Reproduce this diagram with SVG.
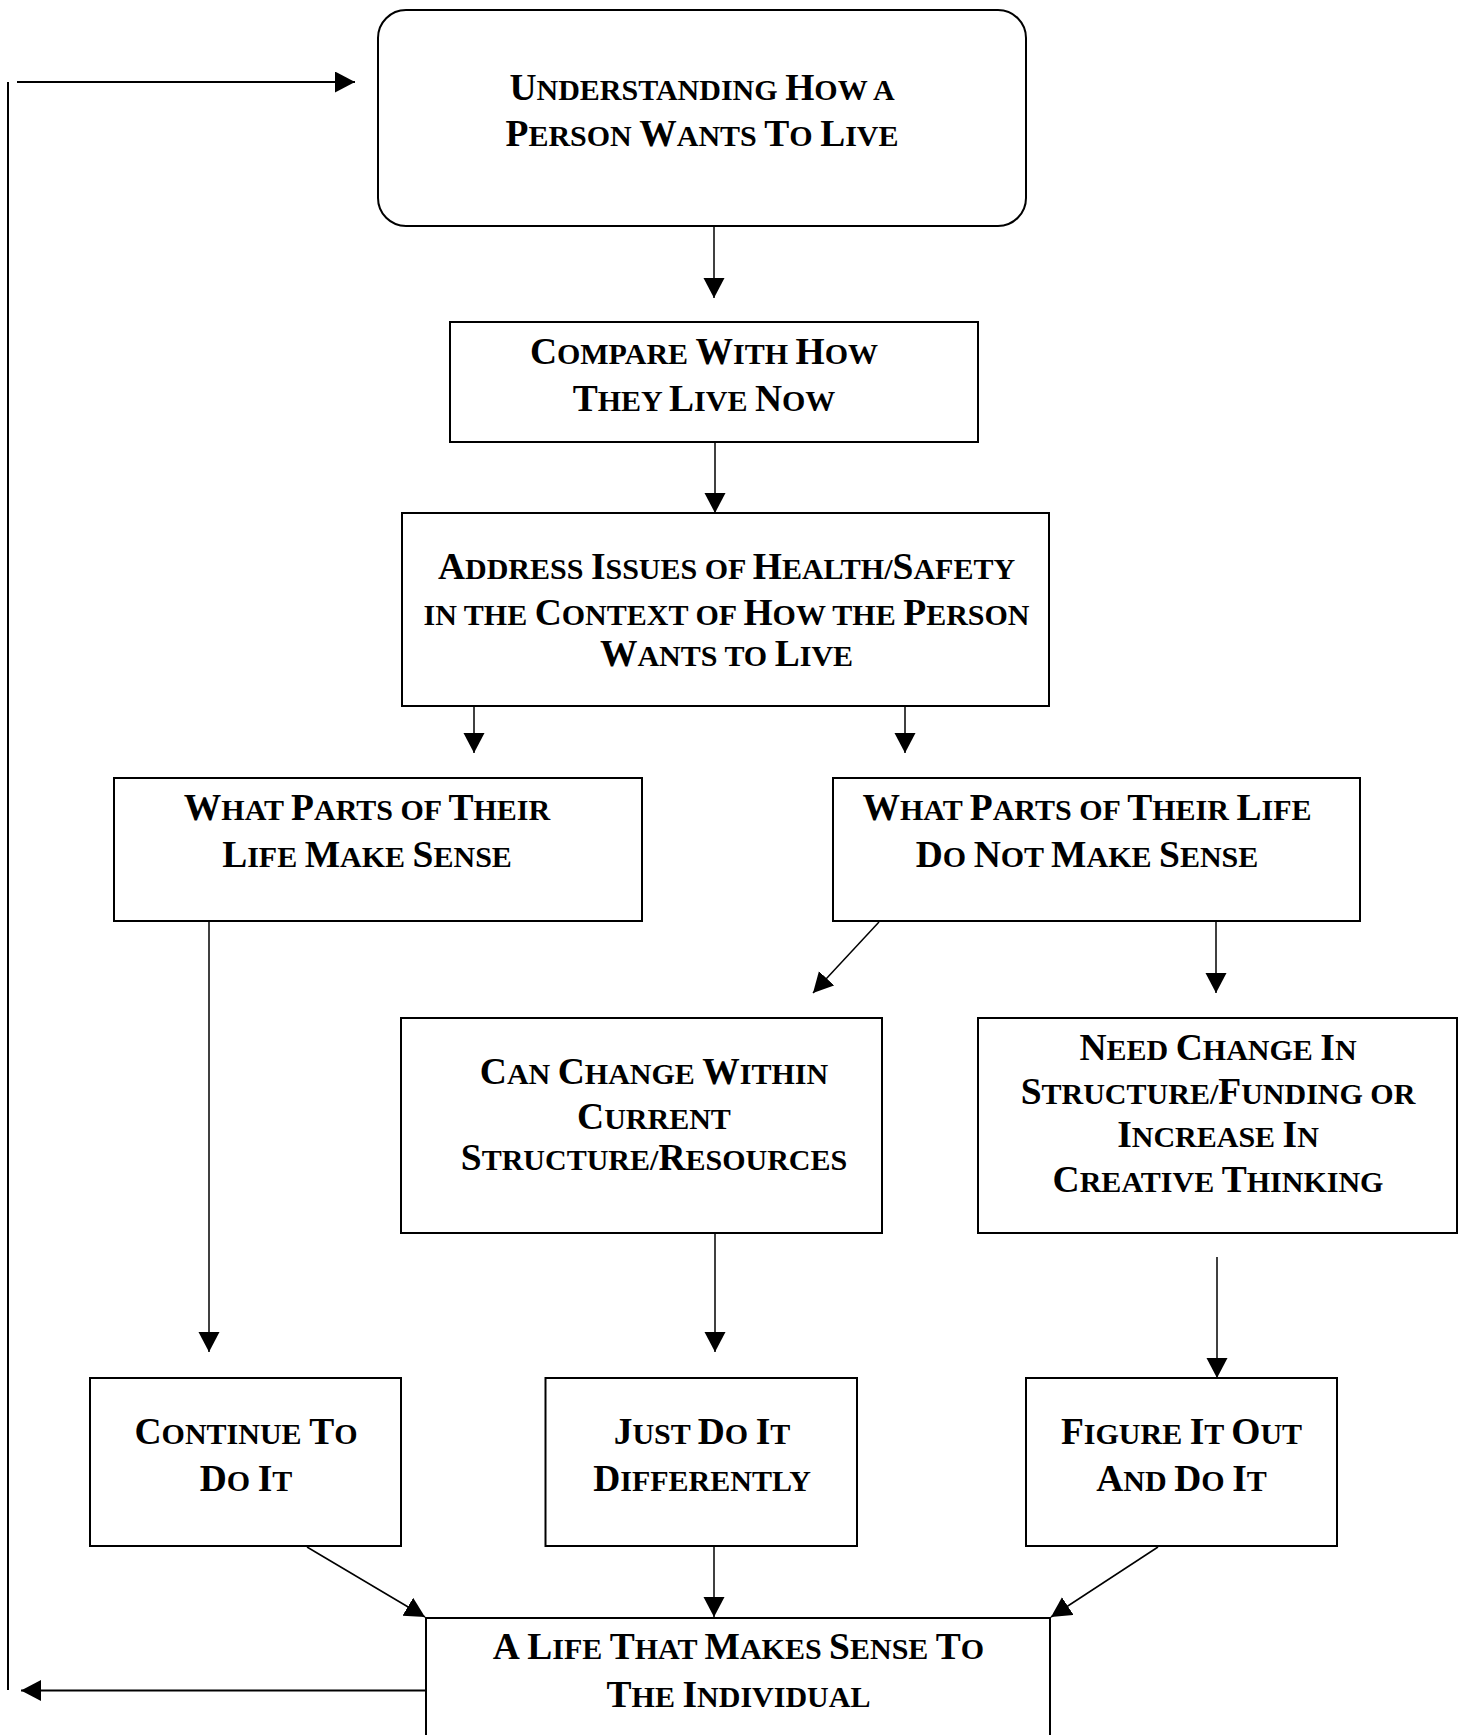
<svg xmlns="http://www.w3.org/2000/svg" width="1463" height="1735" viewBox="0 0 1463 1735">
  <style>
    .box { fill: #fff; stroke: #000; stroke-width: 2; }
    .conn { fill: none; stroke: #000; stroke-width: 1.5; }
    .loop { fill: none; stroke: #000; stroke-width: 2; }
    text { font-family: "Liberation Serif", "Times New Roman", serif; font-weight: bold; font-size: 37.5px; text-anchor: middle; fill: #000; white-space: pre; }
    .s { font-size: 30px; }
  </style>
  <defs>
    <marker id="arrow" markerUnits="userSpaceOnUse" markerWidth="21" markerHeight="22" refX="20" refY="10.5" orient="auto">
      <path d="M0,0 L20,10.5 L0,21 Z" fill="#000"/>
    </marker>
  </defs>
  <rect width="1463" height="1735" fill="#fff"/>

  <g id="connectors">
    <line class="conn" x1="714" y1="227" x2="714" y2="298" marker-end="url(#arrow)"/>
    <line class="conn" x1="715" y1="442" x2="715" y2="513" marker-end="url(#arrow)"/>
    <line class="conn" x1="474" y1="706" x2="474" y2="753" marker-end="url(#arrow)"/>
    <line class="conn" x1="905" y1="706" x2="905" y2="753" marker-end="url(#arrow)"/>
    <line class="conn" x1="209" y1="921" x2="209" y2="1352" marker-end="url(#arrow)"/>
    <line class="conn" x1="879" y1="922" x2="813" y2="993" marker-end="url(#arrow)"/>
    <line class="conn" x1="1216" y1="921" x2="1216" y2="993" marker-end="url(#arrow)"/>
    <line class="conn" x1="715" y1="1233" x2="715" y2="1352" marker-end="url(#arrow)"/>
    <line class="conn" x1="1217" y1="1257" x2="1217" y2="1378" marker-end="url(#arrow)"/>
    <line class="conn" x1="307" y1="1547" x2="425" y2="1617" marker-end="url(#arrow)"/>
    <line class="conn" x1="714" y1="1546" x2="714" y2="1617" marker-end="url(#arrow)"/>
    <line class="conn" x1="1158" y1="1547" x2="1051" y2="1617" marker-end="url(#arrow)"/>
    <!-- feedback loop back to the top -->
    <line class="loop" x1="426" y1="1690.5" x2="21" y2="1690.5" marker-end="url(#arrow)"/>
    <line class="loop" x1="8" y1="82" x2="8" y2="1690"/>
    <line class="loop" x1="17" y1="82" x2="355" y2="82" marker-end="url(#arrow)"/>
  </g>

  <g id="understanding">
    <rect class="box" x="378" y="10" width="648" height="216" rx="28" ry="28"/>
    <text x="702" y="100">U<tspan class="s">NDERSTANDING </tspan>H<tspan class="s">OW A</tspan></text>
    <text x="702" y="146">P<tspan class="s">ERSON </tspan>W<tspan class="s">ANTS </tspan>T<tspan class="s">O </tspan>L<tspan class="s">IVE</tspan></text>
  </g>

  <g id="compare">
    <rect class="box" x="450" y="322" width="528" height="120"/>
    <text x="704" y="364">C<tspan class="s">OMPARE </tspan>W<tspan class="s">ITH </tspan>H<tspan class="s">OW</tspan></text>
    <text x="704" y="411">T<tspan class="s">HEY </tspan>L<tspan class="s">IVE </tspan>N<tspan class="s">OW</tspan></text>
  </g>

  <g id="address">
    <rect class="box" x="402" y="513" width="647" height="193"/>
    <text x="726.5" y="579">A<tspan class="s">DDRESS </tspan>I<tspan class="s">SSUES OF </tspan>H<tspan class="s">EALTH/</tspan>S<tspan class="s">AFETY</tspan></text>
    <text x="726.5" y="625"><tspan class="s">IN THE </tspan>C<tspan class="s">ONTEXT OF </tspan>H<tspan class="s">OW THE </tspan>P<tspan class="s">ERSON</tspan></text>
    <text x="726.5" y="666">W<tspan class="s">ANTS TO </tspan>L<tspan class="s">IVE</tspan></text>
  </g>

  <g id="makes-sense">
    <rect class="box" x="114" y="778" width="528" height="143"/>
    <text x="367" y="819.5">W<tspan class="s">HAT </tspan>P<tspan class="s">ARTS OF </tspan>T<tspan class="s">HEIR</tspan></text>
    <text x="367" y="867">L<tspan class="s">IFE </tspan>M<tspan class="s">AKE </tspan>S<tspan class="s">ENSE</tspan></text>
  </g>

  <g id="not-make-sense">
    <rect class="box" x="833" y="778" width="527" height="143"/>
    <text x="1087" y="819.5">W<tspan class="s">HAT </tspan>P<tspan class="s">ARTS OF </tspan>T<tspan class="s">HEIR </tspan>L<tspan class="s">IFE</tspan></text>
    <text x="1087" y="867">D<tspan class="s">O </tspan>N<tspan class="s">OT </tspan>M<tspan class="s">AKE </tspan>S<tspan class="s">ENSE</tspan></text>
  </g>

  <g id="can-change">
    <rect class="box" x="401" y="1018" width="481" height="215"/>
    <text x="654" y="1084">C<tspan class="s">AN </tspan>C<tspan class="s">HANGE </tspan>W<tspan class="s">ITHIN</tspan></text>
    <text x="654" y="1128.5">C<tspan class="s">URRENT</tspan></text>
    <text x="654" y="1170">S<tspan class="s">TRUCTURE/</tspan>R<tspan class="s">ESOURCES</tspan></text>
  </g>

  <g id="need-change">
    <rect class="box" x="978" y="1018" width="479" height="215"/>
    <text x="1218" y="1060">N<tspan class="s">EED </tspan>C<tspan class="s">HANGE </tspan>I<tspan class="s">N</tspan></text>
    <text x="1218" y="1104">S<tspan class="s">TRUCTURE/</tspan>F<tspan class="s">UNDING OR</tspan></text>
    <text x="1218" y="1147">I<tspan class="s">NCREASE </tspan>I<tspan class="s">N</tspan></text>
    <text x="1218" y="1192">C<tspan class="s">REATIVE </tspan>T<tspan class="s">HINKING</tspan></text>
  </g>

  <g id="continue">
    <rect class="box" x="90" y="1378" width="311" height="168"/>
    <text x="246" y="1443.5">C<tspan class="s">ONTINUE </tspan>T<tspan class="s">O</tspan></text>
    <text x="246" y="1491">D<tspan class="s">O </tspan>I<tspan class="s">T</tspan></text>
  </g>

  <g id="just-do-it">
    <rect class="box" x="545.5" y="1378" width="311.5" height="168"/>
    <text x="702" y="1443.5">J<tspan class="s">UST </tspan>D<tspan class="s">O </tspan>I<tspan class="s">T</tspan></text>
    <text x="702" y="1491">D<tspan class="s">IFFERENTLY</tspan></text>
  </g>

  <g id="figure-it-out">
    <rect class="box" x="1026" y="1378" width="311" height="168"/>
    <text x="1181.5" y="1443.5">F<tspan class="s">IGURE </tspan>I<tspan class="s">T </tspan>O<tspan class="s">UT</tspan></text>
    <text x="1181.5" y="1491">A<tspan class="s">ND </tspan>D<tspan class="s">O </tspan>I<tspan class="s">T</tspan></text>
  </g>

  <g id="life-makes-sense">
    <rect class="box" x="426" y="1618" width="624" height="200"/>
    <text x="738.5" y="1659">A L<tspan class="s">IFE </tspan>T<tspan class="s">HAT </tspan>M<tspan class="s">AKES </tspan>S<tspan class="s">ENSE </tspan>T<tspan class="s">O</tspan></text>
    <text x="738.5" y="1707">T<tspan class="s">HE </tspan>I<tspan class="s">NDIVIDUAL</tspan></text>
  </g>
</svg>
